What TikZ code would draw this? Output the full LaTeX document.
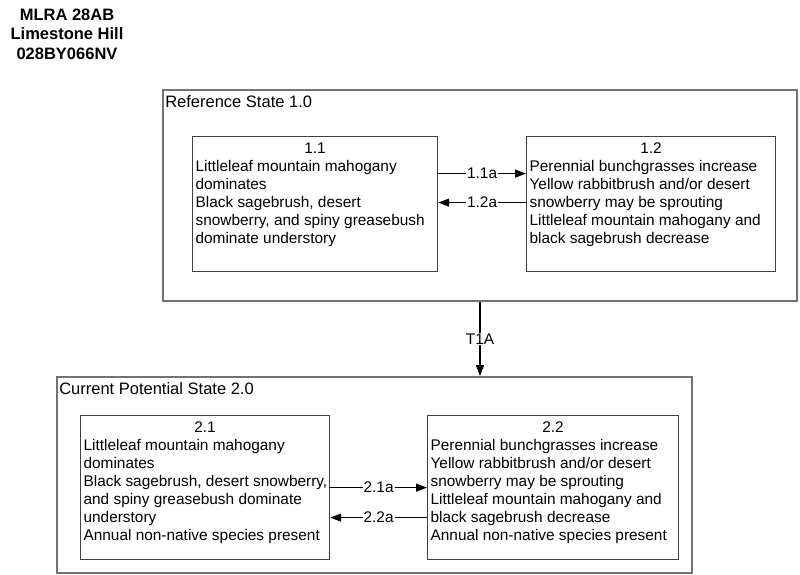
\documentclass[tikz,border=0pt]{standalone}
\usepackage{fontspec}
\setmainfont{Liberation Sans}
\usetikzlibrary{arrows.meta,positioning,calc}

% text of a state box: number centred, then the lines
\newcommand{\statetext}[4]{\parbox[t][#2][t]{#1}{\centerline{#3}\noindent
  \begin{tabular}[t]{@{}l@{}}#4\end{tabular}}}

\begin{document}
\begin{tikzpicture}
[x=1pt,y=-1pt%
,every node/.style={font=\fontsize{15.4}{18}\selectfont}%
,phase/.style={draw=black!55,%
               line width=1.8pt,%
               inner sep=0pt}%
,phaselbl/.style={anchor=north west,%
                  inner xsep=3pt,%
                  inner ysep=6pt,%
                  font=\fontsize{16.5}{19}\selectfont}%
,state/.style={draw=black!75,%
               line width=1.2pt,%
               inner xsep=3pt,%
               inner ysep=6pt,%
               anchor=north west}%
,trans/.style={line width=1.2pt,%
               -{Triangle[length=11pt,width=8pt]}}%
,lbl/.style={fill=white,inner sep=1pt}]

\useasboundingbox (0,0) rectangle (800,575);

% title
\node[align=center,font=\fontsize{16.5}{19.5}\selectfont\bfseries] (title) at (67,34)
  {MLRA 28AB\\Limestone Hill\\028BY066NV};

% reference state
\node[phase,minimum width=634pt,minimum height=211pt] (ref) at (480,195.5) {};
\node[phaselbl] (reflbl) at (ref.north west) {Reference State 1.0};
\node[state] (s11) at (192,136)
  {\statetext{239pt}{123pt}{1.1}{Littleleaf mountain mahogany\\dominates\\Black sagebrush, desert\\snowberry, and spiny greasebush\\dominate understory}};
\node[state] (s12) at (526,136)
  {\statetext{243pt}{123pt}{1.2}{Perennial bunchgrasses increase\\Yellow rabbitbrush and/or desert\\snowberry may be sprouting\\Littleleaf mountain mahogany and\\black sagebrush decrease}};

% current potential state
\node[phase,minimum width=635pt,minimum height=196pt] (cur) at (374.5,475) {};
\node[phaselbl] (curlbl) at (cur.north west) {Current Potential State 2.0};
\node[state] (s21) at (80,415)
  {\statetext{243pt}{132pt}{2.1}{Littleleaf mountain mahogany\\dominates\\Black sagebrush, desert snowberry,\\and spiny greasebush dominate\\understory\\Annual non-native species present}};
\node[state] (s22) at (427,415)
  {\statetext{245pt}{132pt}{2.2}{Perennial bunchgrasses increase\\Yellow rabbitbrush and/or desert\\snowberry may be sprouting\\Littleleaf mountain mahogany and\\black sagebrush decrease\\Annual non-native species present}};

% transitions
\coordinate (a11) at ([yshift=30.5pt]s11.east);
\coordinate (a12) at ([yshift=1.5pt]s11.east);
\coordinate (a22) at ([yshift=-30pt]s21.east);
\draw[trans] (a11) -- node[lbl]{1.1a} (a11 -| s12.west);
\draw[trans] (a12 -| s12.west) -- node[lbl]{1.2a} (a12);
\draw[trans] (s21.east) -- node[lbl]{2.1a} (s21.east -| s22.west);
\draw[trans] (a22 -| s22.west) -- node[lbl]{2.2a} (a22);
\draw[trans] (ref.south) -- node[lbl]{T1A} (ref.south |- cur.north);
\end{tikzpicture}
\end{document}
